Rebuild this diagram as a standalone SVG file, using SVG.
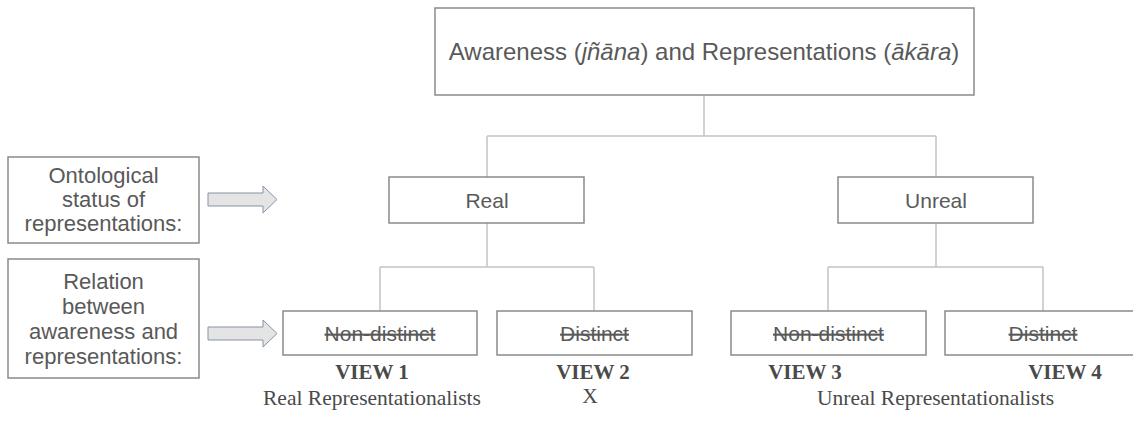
<svg xmlns="http://www.w3.org/2000/svg" width="1133" height="438" viewBox="0 0 1133 438">
<style>
  .box{fill:#ffffff;stroke:#8a8a8a;stroke-width:1.5}
  .t{font-family:"Liberation Sans",Arial,sans-serif;fill:#595959;text-anchor:middle}
  .st{text-decoration:line-through}
  .conn{fill:none;stroke:#c4c4c4;stroke-width:1.5}
  .arr{fill:#e4e4e4;stroke:#8693a8;stroke-width:1}
  .vb{font-family:"Liberation Serif","Times New Roman",serif;font-weight:bold;font-size:21px;fill:#4a4a4a;text-anchor:middle}
  .vr{font-family:"Liberation Serif","Times New Roman",serif;font-size:21.5px;fill:#4a4a4a;text-anchor:middle}
</style>
<rect width="1133" height="438" fill="#ffffff"/>
<g id="connectors">
  <path class="conn" d="M704,95 V136 M487,136 H936 M487,136 V177 M936,136 V177"/>
  <path class="conn" d="M487,223 V267 M380,267 H594 M380,267 V311 M594,267 V311"/>
  <path class="conn" d="M936,223 V267 M828,267 H1043 M828,267 V311 M1043,267 V311"/>
</g>
<g id="root">
  <rect class="box" x="435" y="8" width="539" height="87"/>
  <text class="t" x="704" y="60" font-size="24">Awareness (<tspan font-style="italic">jñāna</tspan>) and Representations (<tspan font-style="italic">ākāra</tspan>)</text>
</g>
<g id="real">
  <rect class="box" x="389" y="177" width="195" height="46"/>
  <text class="t" x="487" y="208" font-size="21">Real</text>
</g>
<g id="unreal">
  <rect class="box" x="838" y="177" width="195" height="46"/>
  <text class="t" x="936" y="208" font-size="21">Unreal</text>
</g>
<g id="real-nondistinct">
  <rect class="box" x="283" y="311" width="194" height="44"/>
  <text class="t st" x="380" y="341" font-size="21">Non-distinct</text>
</g>
<g id="real-distinct">
  <rect class="box" x="497" y="311" width="195" height="44"/>
  <text class="t st" x="594.5" y="341" font-size="21">Distinct</text>
</g>
<g id="unreal-nondistinct">
  <rect class="box" x="731" y="311" width="195" height="44"/>
  <text class="t st" x="828.5" y="341" font-size="21">Non-distinct</text>
</g>
<g id="unreal-distinct">
  <rect class="box" x="945" y="311" width="195" height="44"/>
  <text class="t st" x="1043" y="341" font-size="21">Distinct</text>
</g>
<g id="label-ontological">
  <rect class="box" x="8" y="157" width="191" height="86"/>
  <text class="t" font-size="22"><tspan x="103.5" y="183">Ontological</tspan><tspan x="103.5" y="207">status of</tspan><tspan x="103.5" y="231">representations:</tspan></text>
</g>
<g id="label-relation">
  <rect class="box" x="8" y="259" width="191" height="119"/>
  <text class="t" font-size="22"><tspan x="103.5" y="289">Relation</tspan><tspan x="103.5" y="314">between</tspan><tspan x="103.5" y="339">awareness and</tspan><tspan x="103.5" y="364">representations:</tspan></text>
</g>
<g id="arrow-1">
  <path class="arr" d="M208,193 H263 V186 L277,199.5 L263,213 V206 H208 Z"/>
</g>
<g id="arrow-2">
  <path class="arr" d="M208,327 H263 V320 L277,333.5 L263,347 V340 H208 Z"/>
</g>
<g id="view1">
  <text class="vb" x="372" y="379">VIEW 1</text>
  <text class="vr" x="372" y="405">Real Representationalists</text>
</g>
<g id="view2">
  <text class="vb" x="593" y="379">VIEW 2</text>
  <text class="vr" x="590" y="403">X</text>
</g>
<g id="view3">
  <text class="vb" x="805" y="379">VIEW 3</text>
</g>
<g id="view4">
  <text class="vb" x="1065" y="379">VIEW 4</text>
</g>
<g id="unreal-label">
  <text class="vr" x="935.5" y="405">Unreal Representationalists</text>
</g>
</svg>
